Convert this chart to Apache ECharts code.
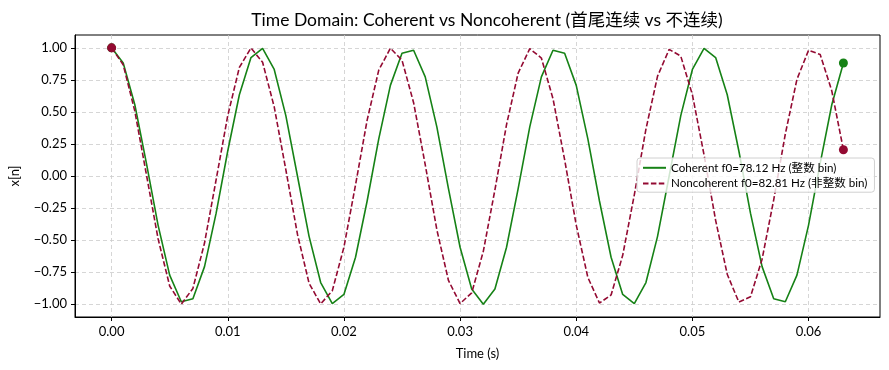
<!DOCTYPE html>
<html>
<head>
<meta charset="utf-8">
<script src="https://cdn.jsdelivr.net/npm/echarts@6/dist/echarts.min.js"></script>
<style>
html,body{margin:0;padding:0;background:#fff;}
#main{width:889px;height:370px;}
</style>
</head>
<body>
<div id="main"></div>
<script>
const t = [0.000,0.001,0.002,0.003,0.004,0.005,0.006,0.007,0.008,0.009,0.010,0.011,0.012,0.013,0.014,0.015,
0.016,0.017,0.018,0.019,0.020,0.021,0.022,0.023,0.024,0.025,0.026,0.027,0.028,0.029,0.030,0.031,
0.032,0.033,0.034,0.035,0.036,0.037,0.038,0.039,0.040,0.041,0.042,0.043,0.044,0.045,0.046,0.047,
0.048,0.049,0.050,0.051,0.052,0.053,0.054,0.055,0.056,0.057,0.058,0.059,0.060,0.061,0.062,0.063];
const coherent = [1, 0.882, 0.556, 0.098, -0.383, -0.773, -0.981, -0.957, -0.707, -0.290, 0.195, 0.634, 0.924, 0.995, 0.831, 0.471,
0, -0.471, -0.831, -0.995, -0.924, -0.634, -0.195, 0.290, 0.707, 0.957, 0.981, 0.773, 0.383, -0.098, -0.556, -0.882,
-1, -0.882, -0.556, -0.098, 0.383, 0.773, 0.981, 0.957, 0.707, 0.290, -0.195, -0.634, -0.924, -0.995, -0.831, -0.471,
0, 0.471, 0.831, 0.995, 0.924, 0.634, 0.195, -0.290, -0.707, -0.957, -0.981, -0.773, -0.383, 0.098, 0.556, 0.882];
const noncoherent = [1, 0.868, 0.506, 0.010, -0.489, -0.858, -1.000, -0.877, -0.523, -0.029, 0.471, 0.847, 0.999, 0.887, 0.539, 0.049,
-0.454, -0.837, -0.998, -0.895, -0.556, -0.069, 0.436, 0.826, 0.997, 0.904, 0.572, 0.088, -0.419, -0.815, -0.995, -0.912,
-0.588, -0.108, 0.401, 0.803, 0.993, 0.920, 0.603, 0.127, -0.383, -0.791, -0.991, -0.928, -0.619, -0.147, 0.365, 0.779,
0.988, 0.935, 0.634, 0.166, -0.346, -0.767, -0.984, -0.942, -0.649, -0.186, 0.328, 0.754, 0.981, 0.948, 0.664, 0.205];
const xTicks = [0, 0.01, 0.02, 0.03, 0.04, 0.05, 0.06];
const yTicks = [-1, -0.75, -0.5, -0.25, 0, 0.25, 0.5, 0.75, 1];
const seriesNames = ['Coherent f0=78.12 Hz (整数 bin)', 'Noncoherent f0=82.81 Hz (非整数 bin)'];
const titleText = 'Time Domain: Coherent vs Noncoherent (首尾连续 vs 不连续)';

const GREEN = '#168216';
const RED = '#930a32';
const FONT = 'Lato, "Noto Sans CJK SC", sans-serif';

const pairs = (ys) => t.map((x, i) => [x, ys[i]]);
const ends = (ys) => [[t[0], ys[0]], [t[t.length - 1], ys[ys.length - 1]]];

const chart = echarts.init(document.getElementById('main'), null, {renderer: 'canvas'});
chart.setOption({
  animation: false,
  backgroundColor: '#fff',
  textStyle: {fontFamily: FONT},
  title: {
    text: titleText, left: 482, top: 7, textAlign: 'center',
    textStyle: {fontFamily: FONT, fontSize: 17.5, fontWeight: 'normal', color: '#000'}
  },
  grid: {left: 75, right: 9, top: 35, bottom: 53, show: true, borderColor: '#000', borderWidth: 1, backgroundColor: 'transparent'},
  legend: {
    orient: 'vertical', left: 637, top: 158,
    data: seriesNames,
    itemWidth: 23, itemHeight: 12, itemGap: 4,
    padding: [4, 7, 3, 5],
    itemStyle: {opacity: 0},
    backgroundColor: 'rgba(255,255,255,0.8)', borderColor: '#d0d0d0', borderWidth: 1, borderRadius: 3,
    textStyle: {fontFamily: FONT, fontSize: 11.6, color: '#000'}
  },
  xAxis: {
    type: 'value', min: -0.00315, max: 0.06615,
    name: 'Time (s)', nameLocation: 'middle', nameGap: 30,
    nameTextStyle: {fontFamily: FONT, fontSize: 13, color: '#000'},
    axisLine: {show: true, onZero: false, lineStyle: {color: '#000', width: 1}},
    axisTick: {show: true, customValues: xTicks, length: 4, lineStyle: {color: '#000'}},
    axisLabel: {customValues: xTicks, color: '#000', fontSize: 13, fontFamily: FONT, margin: 8,
      formatter: v => v.toFixed(2)},
    splitLine: {show: true, lineStyle: {color: '#cccccc', type: [4, 3], width: 0.8}}
  },
  yAxis: {
    type: 'value', min: -1.1, max: 1.1,
    name: 'x[n]', nameLocation: 'middle', nameGap: 54,
    nameTextStyle: {fontFamily: FONT, fontSize: 13, color: '#000'},
    axisLine: {show: true, onZero: false, lineStyle: {color: '#000', width: 1}},
    axisTick: {show: true, customValues: yTicks, length: 4, lineStyle: {color: '#000'}},
    axisLabel: {customValues: yTicks, color: '#000', fontSize: 13, fontFamily: FONT, margin: 8,
      formatter: v => v.toFixed(2).replace('-', '\u2212')},
    splitLine: {show: true, lineStyle: {color: '#cccccc', type: [4, 3], width: 0.8}}
  },
  series: [
    {name: seriesNames[0], type: 'line', data: pairs(coherent), symbol: 'none', z: 2,
      lineStyle: {color: GREEN, width: 1.6}, itemStyle: {color: GREEN}},
    {name: seriesNames[1], type: 'line', data: pairs(noncoherent), symbol: 'none', z: 3,
      lineStyle: {color: RED, width: 1.6, type: [5.5, 2.4]}, itemStyle: {color: RED}},
    {type: 'scatter', data: ends(coherent), symbolSize: 9, itemStyle: {color: GREEN, opacity: 1}, z: 4},
    {type: 'scatter', data: ends(noncoherent), symbolSize: 9, itemStyle: {color: RED, opacity: 1}, z: 5}
  ]
});
</script>
</body>
</html>
